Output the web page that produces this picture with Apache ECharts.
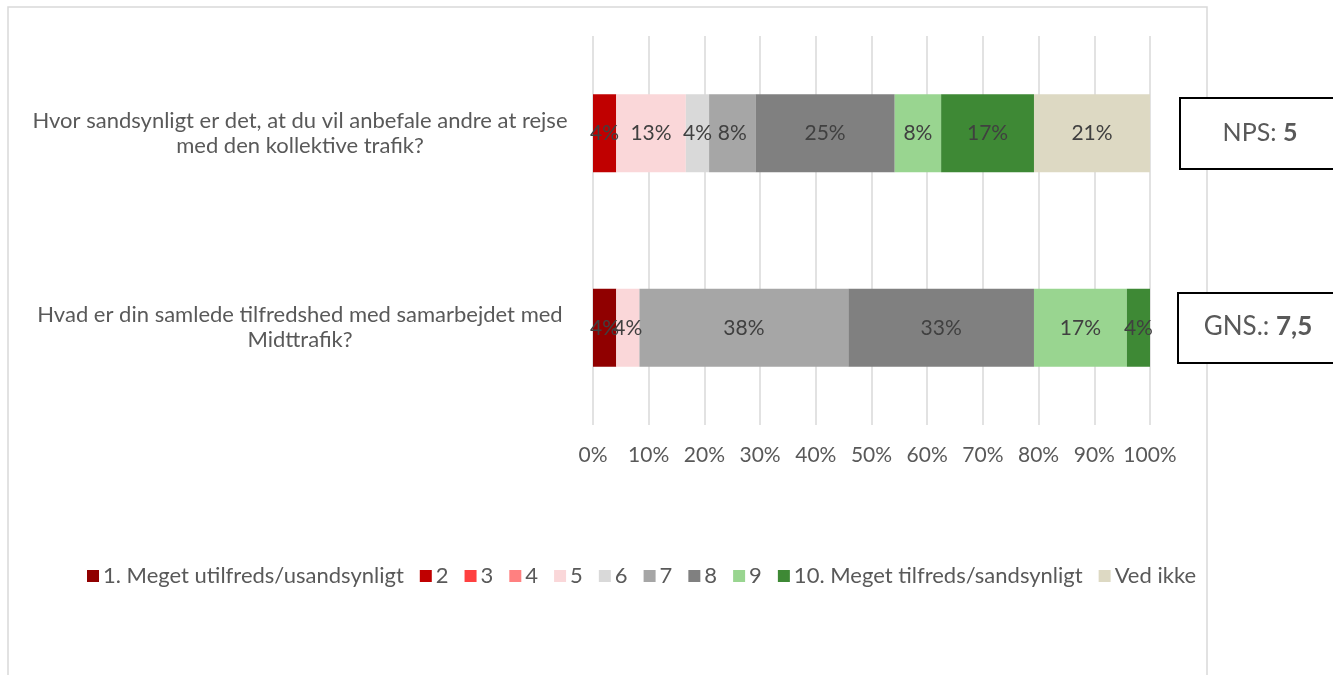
<!DOCTYPE html>
<html><head><meta charset="utf-8">
<script src="https://cdn.jsdelivr.net/npm/echarts@6/dist/echarts.min.js"></script>
<style>html,body{margin:0;padding:0;background:#fff}#c{width:1333px;height:675px}</style>
</head><body><div id="c"></div>
<script>
const categories = [
  "Hvor sandsynligt er det, at du vil anbefale andre at rejse\nmed den kollektive trafik?",
  "Hvad er din samlede tilfredshed med samarbejdet med\nMidttrafik?"
];
const seriesNames = ["1. Meget utilfreds/usandsynligt","2","3","4","5","6","7","8","9","10. Meget tilfreds/sandsynligt","Ved ikke"];
const s1  = [0, 4.17];
const s2  = [4.17, 0];
const s3  = [0, 0];
const s4  = [0, 0];
const s5  = [12.5, 4.17];
const s6  = [4.17, 0];
const s7  = [8.33, 37.5];
const s8  = [25, 33.33];
const s9  = [8.33, 16.67];
const s10 = [16.67, 4.17];
const sVI = [20.83, 0];
const xTicks = [0,10,20,30,40,50,60,70,80,90,100];
const npsValue = "5";
const gnsValue = "7,5";

const colors = ["#900000","#C00000","#FF4040","#FF8080","#FAD7D9","#D9D9D9","#A6A6A6","#808080","#99D590","#3E8935","#DDD9C3"];
const allData = [s1,s2,s3,s4,s5,s6,s7,s8,s9,s10,sVI];
const FONT = "Lato";

const chart = echarts.init(document.getElementById('c'), null, {renderer:'canvas'});
chart.setOption({
  animation:false,
  textStyle:{fontFamily:FONT},
  grid:{left:593, right:183, top:36, bottom:250},
  xAxis:{type:'value', min:xTicks[0], max:xTicks[xTicks.length-1], interval:10,
    axisLine:{show:false}, axisTick:{show:false},
    splitLine:{lineStyle:{color:'#D9D9D9', width:1.5}},
    axisLabel:{formatter:'{value}%', color:'#595959', fontSize:21, fontFamily:FONT, margin:20}},
  yAxis:{type:'category', data:categories, inverse:true,
    axisLine:{show:false}, axisTick:{show:false},
    axisLabel:{color:'#595959', fontSize:22, fontFamily:FONT, align:'center', margin:293, lineHeight:25}},
  legend:{left:82, top:560, itemWidth:12, itemHeight:12, itemGap:16, icon:'rect',
    textStyle:{color:'#595959', fontSize:22, fontFamily:FONT, padding:[0,0,0,-1]},
    data:seriesNames},
  series: seriesNames.map((n,i)=>({
    name:n, type:'bar', stack:'t', barWidth:78, data:allData[i],
    itemStyle:{color:colors[i]},
    label:{show:true, position:'inside', color:'#404040', fontSize:21, fontFamily:FONT,
      formatter:p=> p.value>0 ? Math.round(p.value)+'%' : ''}
  })),
  graphic:[
    {type:'rect', shape:{x:8,y:7,width:1199,height:720}, style:{fill:'none', stroke:'#D9D9D9', lineWidth:1.5}, silent:true},
    {type:'rect', shape:{x:1180,y:98,width:170,height:71}, style:{fill:'#fff', stroke:'#000', lineWidth:2}},
    {type:'text', x:1260, y:133, style:{text:'{a|NPS: }{b|'+npsValue+'}', align:'center', verticalAlign:'middle',
      rich:{a:{fontSize:25, fill:'#595959', fontFamily:FONT}, b:{fontSize:25, fill:'#595959', fontWeight:'bold', fontFamily:FONT}}}},
    {type:'rect', shape:{x:1178,y:293,width:170,height:70}, style:{fill:'#fff', stroke:'#000', lineWidth:2}},
    {type:'text', x:1258, y:327, style:{text:'{a|GNS.: }{b|'+gnsValue+'}', align:'center', verticalAlign:'middle',
      rich:{a:{fontSize:26, fill:'#595959', fontFamily:FONT}, b:{fontSize:26, fill:'#595959', fontWeight:'bold', fontFamily:FONT}}}}
  ]
});
</script></body></html>
